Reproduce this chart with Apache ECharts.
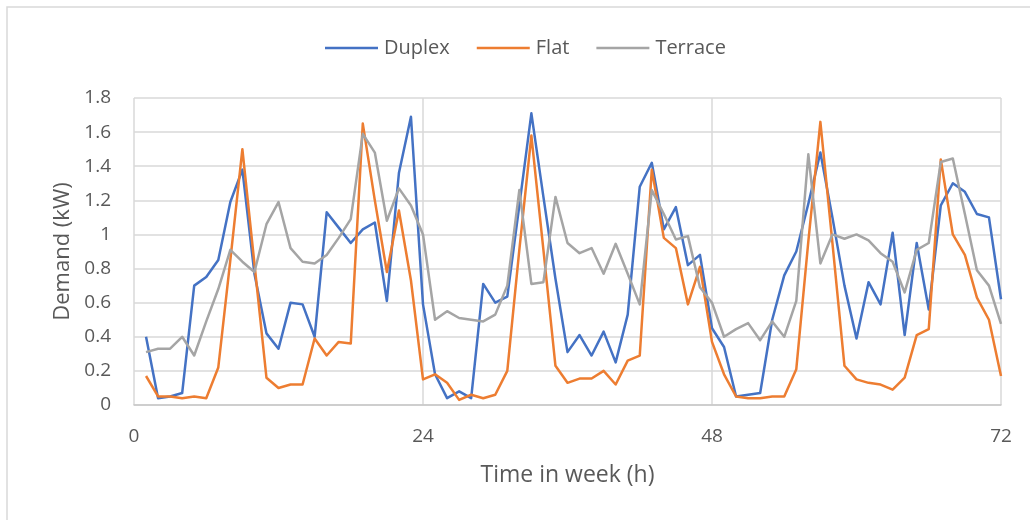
<!DOCTYPE html>
<html>
<head>
<meta charset="utf-8">
<title>Demand</title>
<script src="https://cdn.jsdelivr.net/npm/echarts@6/dist/echarts.min.js"></script>
<style>
  html, body { margin: 0; padding: 0; background: #ffffff; }
  #chart { width: 1030px; height: 520px; }
</style>
</head>
<body>
<div id="chart"></div>
<script>
// Hour of the week for each reading
const hours = [
  1, 2, 3, 4, 5, 6, 7, 8, 9, 10, 11, 12,
  13, 14, 15, 16, 17, 18, 19, 20, 21, 22, 23, 24,
  25, 26, 27, 28, 29, 30, 31, 32, 33, 34, 35, 36,
  37, 38, 39, 40, 41, 42, 43, 44, 45, 46, 47, 48,
  49, 50, 51, 52, 53, 54, 55, 56, 57, 58, 59, 60,
  61, 62, 63, 64, 65, 66, 67, 68, 69, 70, 71, 72
];

// Average demand (kW) per dwelling type
const duplex = [
  0.40, 0.04, 0.05, 0.07, 0.70, 0.75, 0.85, 1.19, 1.38, 0.77, 0.42, 0.33,
  0.60, 0.59, 0.40, 1.13, 1.04, 0.95, 1.03, 1.07, 0.61, 1.36, 1.69, 0.59,
  0.18, 0.04, 0.08, 0.04, 0.71, 0.60, 0.635, 1.17, 1.71, 1.22, 0.74, 0.31,
  0.41, 0.29, 0.43, 0.25, 0.53, 1.28, 1.42, 1.03, 1.16, 0.82, 0.88, 0.45,
  0.34, 0.05, 0.06, 0.07, 0.50, 0.76, 0.90, 1.18, 1.48, 1.10, 0.70, 0.39,
  0.72, 0.59, 1.01, 0.41, 0.95, 0.56, 1.17, 1.30, 1.25, 1.12, 1.10, 0.62
];
const flat = [
  0.17, 0.05, 0.05, 0.04, 0.05, 0.04, 0.22, 0.85, 1.50, 0.83, 0.16, 0.10,
  0.12, 0.12, 0.39, 0.29, 0.37, 0.36, 1.65, 1.20, 0.78, 1.14, 0.73, 0.15,
  0.18, 0.13, 0.03, 0.06, 0.04, 0.06, 0.20, 0.91, 1.58, 0.91, 0.23, 0.13,
  0.155, 0.155, 0.20, 0.12, 0.26, 0.29, 1.38, 0.98, 0.92, 0.59, 0.81, 0.37,
  0.18, 0.05, 0.04, 0.04, 0.05, 0.05, 0.21, 0.96, 1.66, 0.95, 0.23, 0.15,
  0.13, 0.12, 0.09, 0.16, 0.41, 0.445, 1.44, 1.00, 0.88, 0.63, 0.50, 0.17
];
const terrace = [
  0.31, 0.33, 0.33, 0.40, 0.29, 0.49, 0.68, 0.91, 0.84, 0.78, 1.06, 1.19,
  0.92, 0.84, 0.83, 0.88, 0.98, 1.09, 1.59, 1.48, 1.08, 1.27, 1.17, 1.00,
  0.50, 0.55, 0.51, 0.50, 0.49, 0.53, 0.70, 1.26, 0.71, 0.72, 1.22, 0.95,
  0.89, 0.92, 0.77, 0.945, 0.77, 0.59, 1.26, 1.12, 0.97, 0.99, 0.69, 0.60,
  0.40, 0.445, 0.48, 0.38, 0.49, 0.40, 0.61, 1.47, 0.83, 1.00, 0.975, 1.00,
  0.965, 0.89, 0.84, 0.66, 0.91, 0.95, 1.425, 1.445, 1.12, 0.79, 0.70, 0.475
];

const seriesNames = ['Duplex', 'Flat', 'Terrace'];
const seriesColors = ['#4472C4', '#ED7D31', '#A5A5A5'];
const seriesValues = [duplex, flat, terrace];

const FONT = '"Open Sans", sans-serif';
const TEXT = '#595959';
const GRID = '#d9d9d9';

const chart = echarts.init(document.getElementById('chart'), null, { renderer: 'canvas' });

chart.setOption({
  backgroundColor: '#ffffff',
  animation: false,
  graphic: [{
    type: 'rect',
    shape: { x: 7, y: 7, width: 1100, height: 600 },
    style: { fill: 'none', stroke: GRID, lineWidth: 1.5 },
    silent: true
  }],
  legend: {
    top: 33,
    left: 320,
    icon: 'rect',
    itemWidth: 53,
    itemHeight: 2.5,
    itemGap: 27,
    textStyle: { color: TEXT, fontFamily: FONT, fontSize: 20, padding: [0, 0, 0, 1] },
    data: seriesNames
  },
  grid: { left: 134, right: 29, top: 98, bottom: 115, containLabel: false },
  xAxis: {
    type: 'value',
    min: 0,
    max: 72,
    interval: 24,
    name: 'Time in week (h)',
    nameLocation: 'middle',
    nameGap: 59,
    nameTextStyle: { color: TEXT, fontFamily: FONT, fontSize: 23 },
    axisLine: { show: true, lineStyle: { color: '#c8c8c8', width: 1.5 } },
    axisTick: { show: false },
    axisLabel: { color: TEXT, fontFamily: FONT, fontSize: 19, margin: 22 },
    splitLine: { show: true, lineStyle: { color: GRID, width: 1.5 } }
  },
  yAxis: {
    type: 'value',
    min: 0,
    max: 1.8,
    interval: 0.2,
    name: 'Demand (kW)',
    nameLocation: 'middle',
    nameGap: 60,
    nameTextStyle: { color: TEXT, fontFamily: FONT, fontSize: 22 },
    axisLine: { show: false },
    axisTick: { show: false },
    axisLabel: {
      color: TEXT, fontFamily: FONT, fontSize: 19, margin: 23,
      formatter: v => String(Math.round(v * 10) / 10)
    },
    splitLine: { show: true, lineStyle: { color: GRID, width: 1.5 } }
  },
  series: seriesNames.map((name, i) => ({
    name: name,
    type: 'line',
    symbol: 'none',
    data: hours.map((h, k) => [h, seriesValues[i][k]]),
    itemStyle: { color: seriesColors[i] },
    lineStyle: { color: seriesColors[i], width: 2.5, join: 'round' }
  }))
});
</script>
</body>
</html>
